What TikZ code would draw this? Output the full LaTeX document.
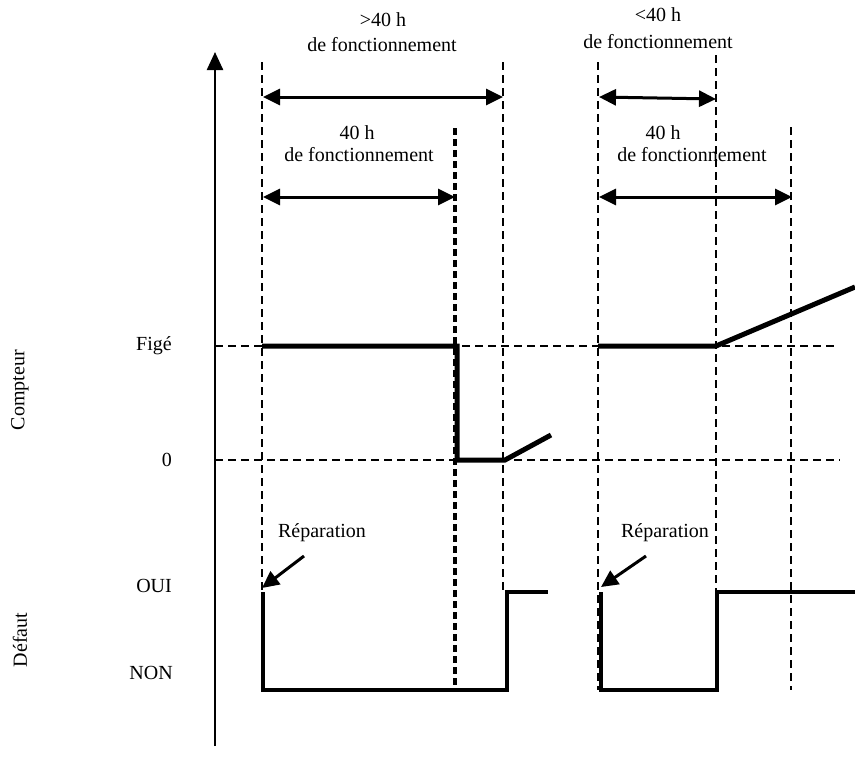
\documentclass[tikz,border=0pt]{standalone}
\usepackage{fontspec}
\setmainfont{Liberation Serif}
\usetikzlibrary{arrows.meta}
\begin{document}
\begin{tikzpicture}[x=1pt,y=-1pt,
  lbl/.style={font=\fontsize{20}{24}\selectfont, inner sep=0pt},
  grid/.style={line width=2.3pt, dash pattern=on 8pt off 5pt},
  gridthick/.style={line width=3.4pt, dash pattern=on 7pt off 4pt},
  dim/.style={line width=3pt, {Triangle[length=17pt,width=16pt]}-{Triangle[length=17pt,width=16pt]}},
  cnt/.style={line width=5pt},
  dft/.style={line width=3.4pt},
  rep/.style={line width=3pt, -{Triangle[length=17pt,width=16pt]}}]
\useasboundingbox (0,0) rectangle (855,756);
% axis
\coordinate (ab) at (215,746);
\coordinate (at) at (215,52);
\draw[line width=2.4pt, -{Triangle[length=18pt,width=16pt]}] (ab) -- (at);
% grid coordinates
\coordinate (v1t) at (262,62);  \coordinate (v1b) at (262,690);
\coordinate (v2t) at (455,128); \coordinate (v2b) at (455,690);
\coordinate (v3t) at (503,62);  \coordinate (v3b) at (503,592);
\coordinate (v4t) at (598,62);  \coordinate (v4b) at (598,690);
\coordinate (v5t) at (716,55);  \coordinate (v5b) at (716,592);
\coordinate (v6t) at (791,127); \coordinate (v6b) at (791,690);
\coordinate (h1l) at (215,346); \coordinate (h1r) at (836,346);
\coordinate (h2l) at (215,460); \coordinate (h2r) at (840,460);
\draw[grid] (v1t) -- (v1b);
\draw[gridthick] (v2t) -- (v2b);
\draw[grid] (v3t) -- (v3b);
\draw[grid] (v4t) -- (v4b);
\draw[grid] (v5t) -- (v5b);
\draw[grid] (v6t) -- (v6b);
\draw[grid] (h1l) -- (h1r);
\draw[grid] (h2l) -- (h2r);
% dimension arrows
\coordinate (d1a) at (263,97);  \coordinate (d1b) at (503,97);
\coordinate (d2a) at (263,197); \coordinate (d2b) at (455,197);
\coordinate (d3a) at (599,97);  \coordinate (d3b) at (716,99);
\coordinate (d4a) at (599,197); \coordinate (d4b) at (792,197);
\draw[dim] (d1a) -- (d1b);
\draw[dim] (d2a) -- (d2b);
\draw[dim] (d3a) -- (d3b);
\draw[dim] (d4a) -- (d4b);
% texts
\node[lbl] (t1a) at (383,20) {>40 h};
\node[lbl] (t1b) at (382,45) {de fonctionnement};
\node[lbl] (t2a) at (357,133) {40 h};
\node[lbl] (t2b) at (359,155) {de fonctionnement};
\node[lbl] (t3a) at (658,15) {<40 h};
\node[lbl] (t3b) at (658,42) {de fonctionnement};
\node[lbl] (t4a) at (663,133) {40 h};
\node[lbl] (t4b) at (692,155) {de fonctionnement};
% counter
\coordinate (c1) at (262,346); \coordinate (c2) at (457,346);
\coordinate (c3) at (457,460); \coordinate (c4) at (505,460);
\coordinate (c5) at (551,435);
\draw[cnt] (c1) -- (c2) -- (c3) -- (c4) -- (c5);
\coordinate (c6) at (598,346); \coordinate (c7) at (716,346);
\coordinate (c8) at (855,287);
\draw[cnt] (c6) -- (c7) -- (c8);
% defaut
\coordinate (e1) at (263,592); \coordinate (e2) at (263,690);
\coordinate (e3) at (507,690); \coordinate (e4) at (507,592);
\coordinate (e5) at (548,592);
\draw[dft] (e1) -- (e2) -- (e3) -- (e4) -- (e5);
\coordinate (f1) at (601,592); \coordinate (f2) at (601,690);
\coordinate (f3) at (717,690); \coordinate (f4) at (717,592);
\coordinate (f5) at (855,592);
\draw[dft] (f1) -- (f2) -- (f3) -- (f4) -- (f5);
% reparation
\node[lbl] (r1) at (322,533) {Réparation};
\node[lbl] (r2) at (665,533) {Réparation};
\coordinate (r1s) at (304,556); \coordinate (r1e) at (262,588);
\coordinate (r2s) at (646,556); \coordinate (r2e) at (601,587);
\draw[rep] (r1s) -- (r1e);
\draw[rep] (r2s) -- (r2e);
% left labels
\node[lbl, anchor=east] (lf) at (172,346) {Figé};
\node[lbl, anchor=east] (l0) at (172,460) {0};
\node[lbl, anchor=east] (lo) at (172,586) {OUI};
\node[lbl, anchor=east] (ln) at (173,673) {NON};
\node[lbl, rotate=90] (lc) at (20,390) {Compteur};
\node[lbl, rotate=90] (ld) at (20,640) {Défaut};
\end{tikzpicture}
\end{document}
